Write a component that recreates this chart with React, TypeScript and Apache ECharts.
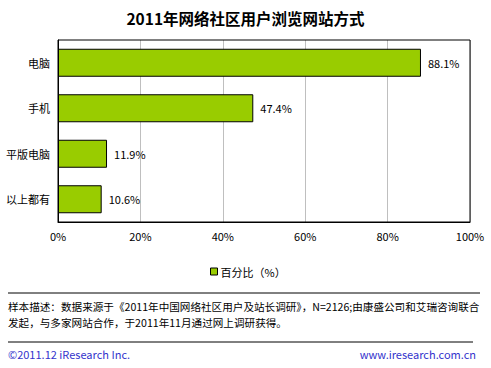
import React, { useEffect, useRef } from "react";
import * as echarts from "echarts";

const categories = ["电脑", "手机", "平版电脑", "以上都有"];
const values = [88.1, 47.4, 11.9, 10.6];
const seriesName = "百分比（%）";
const titleText = "2011年网络社区用户浏览网站方式";
const note1 = "样本描述：数据来源于《2011年中国网络社区用户及站长调研》，N=2126;由康盛公司和艾瑞咨询联合";
const note2 = "发起，与多家网站合作，于2011年11月通过网上调研获得。";
const footLeft = "©2011.12 iResearch Inc.";
const footRight = "www.iresearch.com.cn";

const FONT = "'Noto Sans CJK SC', 'Noto Sans', sans-serif";

export default function App() {
  const ref = useRef<HTMLDivElement>(null);
  useEffect(() => {
    const chart = echarts.init(ref.current!, null, { renderer: "svg" });
    chart.setOption({
      animation: false,
      backgroundColor: "#ffffff",
      textStyle: { fontFamily: FONT },
      title: {
        text: titleText,
        left: "center",
        top: 5,
        textStyle: { fontSize: 15.5, fontWeight: "bold", color: "#000", fontFamily: FONT },
      },
      legend: {
        data: [seriesName],
        left: 205,
        top: 261,
        icon: "rect",
        itemWidth: 7,
        itemHeight: 7,
        itemGap: 4,
        itemStyle: { borderColor: "#000", borderWidth: 1 },
        textStyle: { fontSize: 11, color: "#000", fontFamily: FONT, padding: [0, 0, 0, -2] },
      },
      grid: { left: 58, right: 21, top: 40, bottom: 146, containLabel: false },
      xAxis: {
        type: "value",
        min: 0,
        max: 100,
        interval: 20,
        axisLine: { show: true, lineStyle: { color: "#000", width: 1 } },
        axisTick: { show: false },
        axisLabel: { formatter: "{value}%", fontSize: 11, color: "#000", margin: 8, fontFamily: FONT },
        splitLine: { show: true, lineStyle: { color: "#bfbfbf", width: 1 } },
      },
      yAxis: {
        type: "category",
        data: categories,
        inverse: true,
        axisLine: { show: true, lineStyle: { color: "#000", width: 1 } },
        axisTick: { show: false },
        axisLabel: { fontSize: 11, color: "#000", margin: 8, fontFamily: FONT },
      },
      series: [
        {
          name: seriesName,
          type: "bar",
          data: values,
          barWidth: 28,
          itemStyle: { color: "#99cc00", borderColor: "#000", borderWidth: 1 },
          label: {
            show: true,
            position: "right",
            distance: 7,
            formatter: (p: any) => p.value.toFixed(1) + "%",
            fontSize: 11,
            color: "#000",
            fontFamily: FONT,
          },
        },
      ],
      graphic: [
        { type: "rect", shape: { x: 58, y: 40, width: 412, height: 182 }, style: { fill: "none", stroke: "#000", lineWidth: 1 }, z: 10 },
        { type: "line", shape: { x1: 8, y1: 293, x2: 480, y2: 293 }, style: { stroke: "#000", lineWidth: 1 } },
        { type: "text", x: 8, y: 301, style: { text: note1, fontSize: 10.6, fill: "#000", fontFamily: FONT } },
        { type: "text", x: 8, y: 317, style: { text: note2, fontSize: 10.6, fill: "#000", fontFamily: FONT } },
        { type: "line", shape: { x1: 8, y1: 342, x2: 473, y2: 342 }, style: { stroke: "#000", lineWidth: 1 } },
        { type: "text", x: 8, y: 348, style: { text: footLeft, fontSize: 11, fill: "#3333cc", fontFamily: FONT } },
        { type: "text", x: 476, y: 348, style: { text: footRight, fontSize: 11, fill: "#3333cc", fontFamily: FONT, align: "right" } },
      ],
    });
    return () => chart.dispose();
  }, []);
  return <div ref={ref} style={{ width: 491, height: 368, position: "absolute", left: 0, top: 0 }} />;
}
